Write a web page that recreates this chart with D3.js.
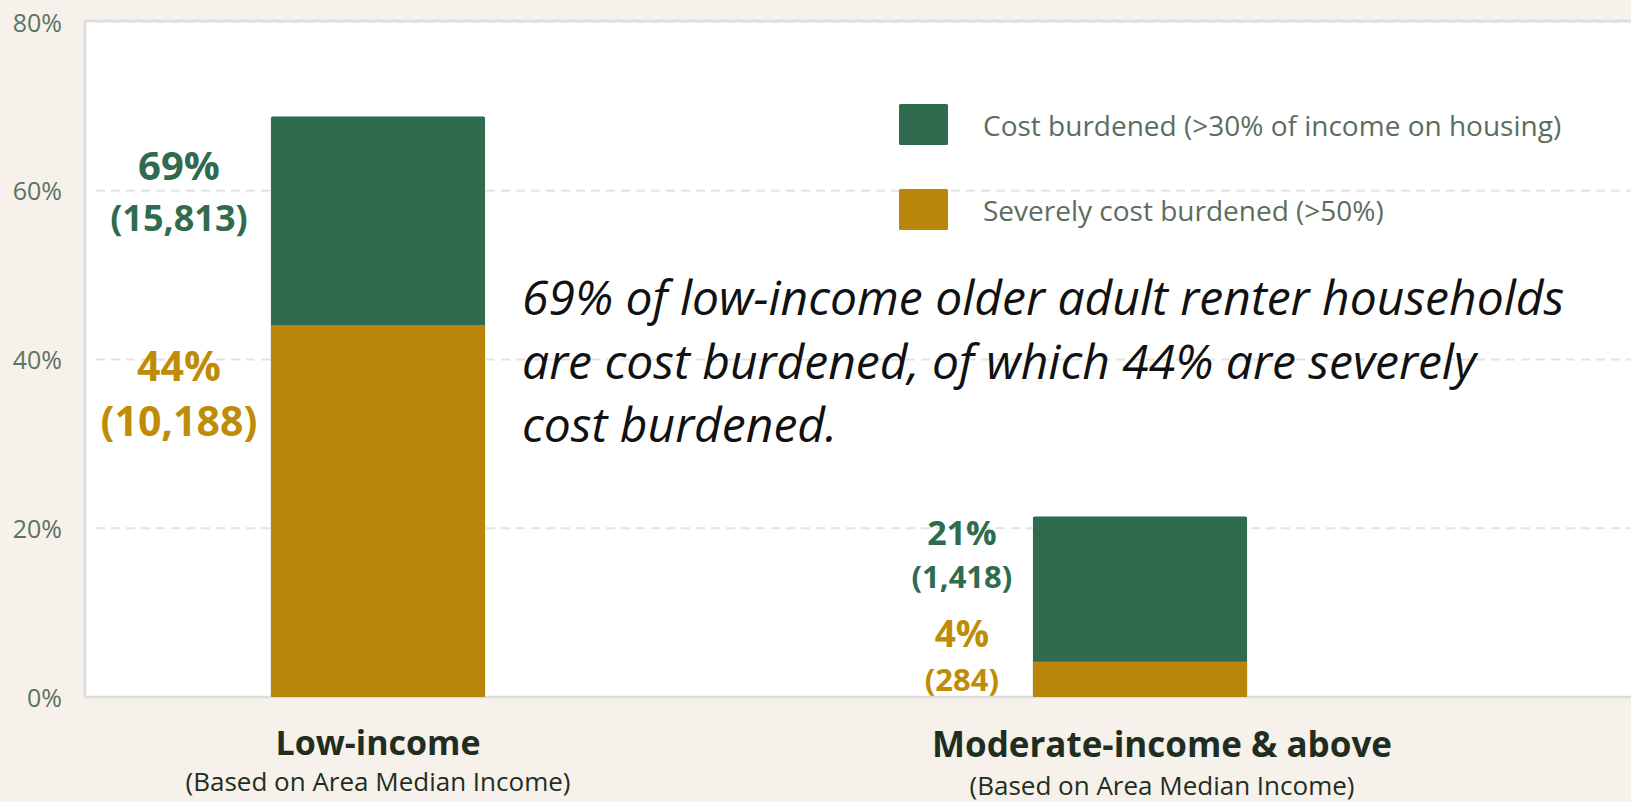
<!DOCTYPE html>
<html>
<head>
<meta charset="utf-8">
<script src="https://cdn.jsdelivr.net/npm/d3@7"></script>
<style>
  body { margin: 0; background: #f6f1ea; }
  svg { display: block; font-family: "Open Sans", sans-serif; }
</style>
</head>
<body>
<div id="chart"></div>
<script>
// data
var categories = ["Low-income", "Moderate-income & above"];
var costBurdened = [0.688, 0.214];      // >30% of income on housing
var severelyBurdened = [0.441, 0.042];  // >50%
var costPctLabels = ["69%", "21%"];
var costCountLabels = ["(15,813)", "(1,418)"];
var severePctLabels = ["44%", "4%"];
var severeCountLabels = ["(10,188)", "(284)"];
var yTicks = [0, 0.2, 0.4, 0.6, 0.8];
var legendLabels = ["Cost burdened (>30% of income on housing)", "Severely cost burdened (>50%)"];
var noteLines = [
    "69% of low-income older adult renter households",
    "are cost burdened, of which 44% are severely",
    "cost burdened."
];
var subLabel = "(Based on Area Median Income)";

var width = 1631;
var height = 802;
var green = "#2e6b4f";
var gold = "#b8860b";
var goldText = "#bf8c07";
var axisText = "#5e7262";

var plot = { left: 85, top: 22, bottom: 697 };

var svg = d3.select("#chart")
    .append("svg")
    .attr("width", width)
    .attr("height", height);

svg.append("rect")
    .attr("width", width)
    .attr("height", height)
    .attr("fill", "#f6f1ea");

// white plot panel, runs off the right edge
svg.append("rect")
    .attr("x", plot.left)
    .attr("y", plot.top - 1)
    .attr("width", width)
    .attr("height", plot.bottom - plot.top + 1)
    .attr("fill", "white")
    .attr("stroke", "#dcdcdc")
    .attr("stroke-width", 2.5);

var y = d3.scaleLinear()
    .domain([0, 0.8])
    .range([plot.bottom, plot.top]);

var x = d3.scaleBand()
    .domain(categories)
    .range([plot.left, 1433])
    .paddingInner(0.719)
    .paddingOuter(0.244);

// grid
svg.append("g")
    .selectAll("line")
    .data(yTicks.filter(d => d > 0))
    .enter()
    .append("line")
    .attr("x1", 96)
    .attr("x2", width)
    .attr("y1", d => y(d))
    .attr("y2", d => y(d))
    .attr("stroke", "#e3e3e3")
    .attr("stroke-width", 2)
    .attr("stroke-dasharray", "9,6");

// y axis labels
var yAxis = d3.axisLeft(y)
    .tickValues(yTicks)
    .tickFormat(d3.format(".0%"))
    .tickSize(0)
    .tickPadding(0);

svg.append("g")
    .attr("transform", "translate(62,0)")
    .call(yAxis)
    .call(g => g.select(".domain").remove())
    .selectAll("text")
    .attr("font-family", "Open Sans")
    .attr("font-size", 25)
    .attr("fill", axisText)
    .attr("dy", "0.36em");

// bars: cost burdened behind, severely burdened in front
svg.append("g")
    .selectAll("rect")
    .data(categories)
    .enter()
    .append("rect")
    .attr("x", d => x(d))
    .attr("y", (d, i) => y(costBurdened[i]))
    .attr("width", x.bandwidth())
    .attr("height", (d, i) => y(0) - y(costBurdened[i]))
    .attr("rx", 1.5)
    .attr("fill", green);

svg.append("g")
    .selectAll("rect")
    .data(categories)
    .enter()
    .append("rect")
    .attr("x", d => x(d))
    .attr("y", (d, i) => y(severelyBurdened[i]))
    .attr("width", x.bandwidth())
    .attr("height", (d, i) => y(0) - y(severelyBurdened[i]))
    .attr("rx", 1.5)
    .attr("fill", gold);

// value labels (left of each bar); baselines given relative to the bar tops
var labelDx = [92, 71];
var labelLayout = [
    { pct: costPctLabels, count: costCountLabels, vals: costBurdened, color: green,
      pctSize: [40, 34], countSize: [36, 31], pctDy: [63, 29], countDy: [114, 72] },
    { pct: severePctLabels, count: severeCountLabels, vals: severelyBurdened, color: goldText,
      pctSize: [41, 37], countSize: [41, 31], pctDy: [56, -15], countDy: [111, 29] }
];

labelLayout.forEach(function(s) {
    var g = svg.append("g")
        .attr("font-weight", 700)
        .attr("fill", s.color)
        .attr("text-anchor", "middle");
    categories.forEach(function(c, i) {
        var cx = x(c) - labelDx[i];
        g.append("text")
            .attr("x", cx)
            .attr("y", y(s.vals[i]) + s.pctDy[i])
            .attr("font-size", s.pctSize[i])
            .text(s.pct[i]);
        g.append("text")
            .attr("x", cx)
            .attr("y", y(s.vals[i]) + s.countDy[i])
            .attr("font-size", s.countSize[i])
            .text(s.count[i]);
    });
});

// category labels
var catDx = [0, 22];
var catDy = [755, 757];
var catG = svg.append("g").attr("text-anchor", "middle").attr("fill", "#1f2e21");
categories.forEach(function(c, i) {
    var cx = x(c) + x.bandwidth() / 2 + catDx[i];
    catG.append("text")
        .attr("x", cx)
        .attr("y", catDy[i])
        .attr("font-size", [34, 35][i])
        .attr("font-weight", 700)
        .text(c);
    catG.append("text")
        .attr("x", cx)
        .attr("y", catDy[i] + [36, 38][i])
        .attr("font-size", 26)
        .text(subLabel);
});

// legend
var legend = svg.append("g")
    .selectAll("g")
    .data(legendLabels)
    .enter()
    .append("g")
    .attr("transform", (d, i) => "translate(899," + (104 + i * 85) + ")");

legend.append("rect")
    .attr("width", 49)
    .attr("height", 41)
    .attr("rx", 1.5)
    .attr("fill", (d, i) => [green, gold][i]);

legend.append("text")
    .attr("x", 84)
    .attr("y", 32)
    .attr("font-size", 28)
    .attr("fill", "#5b6e5e")
    .text(d => d);

// annotation
svg.append("g")
    .selectAll("text")
    .data(noteLines)
    .enter()
    .append("text")
    .attr("x", 522)
    .attr("y", (d, i) => 315 + i * 63.5)
    .attr("font-size", 48)
    .attr("font-style", "italic")
    .attr("fill", "#111")
    .text(d => d);
</script>
</body>
</html>
